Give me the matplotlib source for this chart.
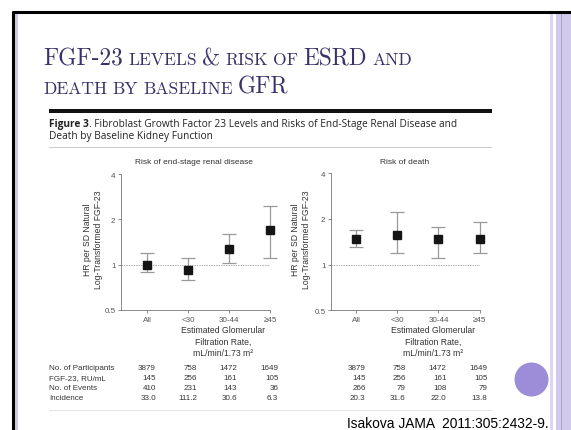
import matplotlib
matplotlib.use("Agg")
import matplotlib.pyplot as plt
from matplotlib.patches import Circle, Rectangle

# === Data ===
groups = ["All", "<30", "30-44", "\u226545"]

esrd_hr = [1.00, 0.92, 1.28, 1.69]
esrd_lo = [0.90, 0.79, 1.02, 1.11]
esrd_hi = [1.20, 1.11, 1.61, 2.44]

death_hr = [1.47, 1.56, 1.47, 1.47]
death_lo = [1.30, 1.20, 1.10, 1.19]
death_hi = [1.70, 2.21, 1.77, 1.90]

row_labels = ["No. of Participants", "FGF-23, RU/mL", "No. of Events", "Incidence"]
esrd_table = [["3879", "758", "1472", "1649"],
              ["145", "256", "161", "105"],
              ["410", "231", "143", "36"],
              ["33.0", "111.2", "30.6", "6.3"]]
death_table = [["3879", "758", "1472", "1649"],
               ["145", "256", "161", "105"],
               ["266", "79", "108", "79"],
               ["20.3", "31.6", "22.0", "13.8"]]

yticks = [0.5, 1, 2, 4]
ytick_labels = ["0.5", "1", "2", "4"]

W, H = 571, 431
fig = plt.figure(figsize=(W / 100, H / 100), dpi=100)
fig.patch.set_facecolor("white")

# background axes in pixel coordinates (origin top-left)
bg = fig.add_axes([0, 0, 1, 1], zorder=0)
bg.set_xlim(0, W)
bg.set_ylim(H, 0)
bg.axis("off")

# --- slide frame ---
bg.add_patch(Rectangle((550, 13), 2.7, H, color="#dcd6f0", lw=0))
bg.add_patch(Rectangle((556, 13), 15, H, color="#d2caec", lw=0))
bg.add_patch(Rectangle((560.5, 13), 1.5, H, color="#ab9fe0", lw=0))
bg.add_patch(Rectangle((15.3, 13), 3, H, color="#cfc8ec", lw=0))
bg.plot([12, 571], [13, 13], color="black", lw=2.2, solid_capstyle="butt")
bg.plot([13.2, 13.2], [12, H], color="black", lw=2.2, solid_capstyle="butt")
bg.add_patch(Circle((531.5, 380.5), 17, color="#9d8dd8", lw=0))

rend = fig.canvas.get_renderer()

def chunks(x, y, parts, **kw):
    # draw text pieces side by side on a common baseline
    for s, size, gap, extra in parts:
        t = bg.text(x, y, s, fontsize=size, va="baseline", ha="left", **kw, **extra)
        x += t.get_window_extent(renderer=rend).width + gap

# --- slide title (small caps) ---
tc = "#3b3068"
big, small = 16.8, 12.6
sp = 5.3
chunks(43, 65, [("FGF-23", big, sp, {}), ("LEVELS", small, sp, {}), ("&", big, sp, {}),
                ("RISK", small, sp, {}), ("OF", small, sp, {}), ("ESRD", big, sp, {}),
                ("AND", small, 0, {})], family="cmr10", color=tc)
chunks(43, 93.5, [("DEATH", small, sp, {}), ("BY", small, sp, {}), ("BASELINE", small, sp, {}),
                  ("GFR", big, 0, {})], family="cmr10", color=tc)

# --- figure caption ---
bg.add_patch(Rectangle((49, 110), 442.5, 4, color="#111111", lw=0))
chunks(49, 127, [("Figure 3", 7.3, 0, {"fontweight": "bold"}),
                 (". Fibroblast Growth Factor 23 Levels and Risks of End-Stage Renal Disease and", 7.3, 0, {})],
       family="Open Sans", color="#222222")
bg.text(49, 139.5, "Death by Baseline Kidney Function", fontsize=7.3, family="Open Sans",
        color="#222222", va="baseline", ha="left")
bg.plot([49, 491], [148.3, 148.3], color="#c8c8c8", lw=0.7)
bg.plot([49, 491], [411, 411], color="#e4e4e4", lw=0.7)

# --- forest panels ---
gray = "#555555"
font = "Liberation Sans"

def panel(rect_px, xmin, hr, lo, hi, title, title_x, ylab_x, xlab_x):
    l, t, r, b = rect_px
    ax = fig.add_axes([l / W, 1 - b / H, (r - l) / W, (b - t) / H], zorder=2)
    ax.patch.set_alpha(0)
    ax.set_yscale("log", base=2)
    ax.set_ylim(0.5, 4)
    ax.set_xlim(xmin, 3.0)
    x = list(range(len(groups)))
    err = [[h - a for h, a in zip(hr, lo)], [c - h for h, c in zip(hr, hi)]]
    ax.axhline(1, color="#888888", lw=0.5, ls=(0, (2, 1.5)), zorder=1)
    eb = ax.errorbar(x, hr, yerr=err, fmt="none", ecolor="#9a9a9a", elinewidth=0.9,
                     capsize=5, capthick=0.9, zorder=2)
    for part in eb.lines:
        if part is None:
            continue
        for art in (part if isinstance(part, tuple) else [part]):
            art.set_clip_on(False)
    ax.plot(x, hr, "s", color="#151515", ms=5.2, zorder=3, clip_on=False)
    ax.set_yticks(yticks)
    ax.set_yticklabels(ytick_labels)
    ax.minorticks_off()
    ax.set_xticks(x)
    ax.set_xticklabels(groups)
    for s in ["top", "right"]:
        ax.spines[s].set_visible(False)
    for s in ["left", "bottom"]:
        ax.spines[s].set_color("#777777")
        ax.spines[s].set_linewidth(0.6)
    ax.tick_params(length=2.5, width=0.6, color="#777777", labelsize=5.8,
                   labelcolor=gray, pad=1.5)
    for lab in ax.get_xticklabels() + ax.get_yticklabels():
        lab.set_family(font)
    bg.text(title_x, 163, title, fontsize=6, family=font, color="#333333",
            ha="center", va="center")
    bg.text(ylab_x, 240, "HR per SD Natural\nLog-Transformed FGF-23", fontsize=6.2,
            family=font, color="#333333", ha="center", va="center", rotation=90,
            linespacing=1.35)
    bg.text(xlab_x, 342, "Estimated Glomerular\nFiltration Rate,\nmL/min/1.73 m\u00b2",
            fontsize=6.2, family=font, color="#333333", ha="center", va="center",
            linespacing=1.3)
    return ax

panel((121, 175, 270, 311), -0.64, esrd_hr, esrd_lo, esrd_hi,
      "Risk of end-stage renal disease", 194, 93, 223)
panel((331, 174.3, 479.5, 311.3), -0.62, death_hr, death_lo, death_hi,
      "Risk of death", 405, 301, 433)

# --- table under panels ---
row_y = [368.3, 378.3, 388.6, 398.7]
left_cols = [156, 197.3, 237.3, 278.3]
right_cols = [365.7, 405.7, 446.7, 487.3]
for i, lab in enumerate(row_labels):
    bg.text(49, row_y[i], lab, fontsize=5.8, family=font, color="#333333",
            ha="left", va="center")
    for j in range(4):
        bg.text(left_cols[j], row_y[i], esrd_table[i][j], fontsize=5.8, family=font,
                color="#333333", ha="right", va="center")
        bg.text(right_cols[j], row_y[i], death_table[i][j], fontsize=5.8, family=font,
                color="#333333", ha="right", va="center")

# --- citation ---
bg.text(347, 428.5, "Isakova JAMA  2011:305:2432-9.", fontsize=9.9, family="Liberation Sans",
        color="black", ha="left", va="baseline")

fig.savefig("out.png", dpi=100)
